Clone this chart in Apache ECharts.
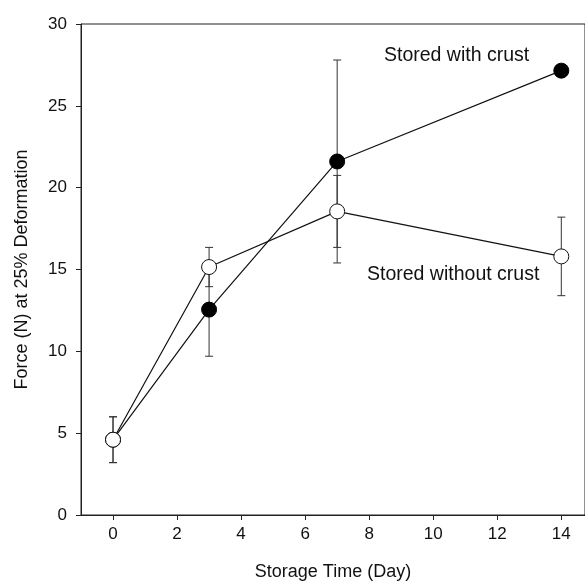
<!DOCTYPE html>
<html>
<head>
<meta charset="utf-8">
<script src="https://cdn.jsdelivr.net/npm/echarts@6/dist/echarts.min.js"></script>
<style>html,body{margin:0;padding:0;background:#fff}#c{width:585px;height:587px}</style>
</head>
<body>
<div id="c"></div>
<script>
var days = [0, 3, 7, 14];
var withCrust = [4.6, 12.55, 21.6, 27.15];
var withCrustErr = [1.4, 2.85, 6.2, 0];
var withoutCrust = [4.6, 15.15, 18.55, 15.8];
var withoutCrustErr = [1.4, 1.2, 2.2, 2.4];
var xTicks = [0, 2, 4, 6, 8, 10, 12, 14];
var yTicks = [0, 5, 10, 15, 20, 25, 30];
var labelWith = 'Stored with crust';
var labelWithout = 'Stored without crust';
var xTitle = 'Storage Time (Day)';
var yTitle = 'Force (N) at 25% Deformation';

var FONT = '"Liberation Sans", Arial, sans-serif';
var chart = echarts.init(document.getElementById('c'), null, {renderer: 'canvas'});

function errData(vals, errs) {
  return days.map(function (d, i) { return [d, vals[i] - errs[i], vals[i] + errs[i]]; });
}
function errRender(params, api) {
  var x = api.value(0);
  var lo = api.coord([x, api.value(1)]);
  var hi = api.coord([x, api.value(2)]);
  var hw = 4;
  var st = {stroke: '#333', lineWidth: 1};
  return {
    type: 'group',
    children: [
      {type: 'line', shape: {x1: lo[0], y1: lo[1], x2: hi[0], y2: hi[1]}, style: st},
      {type: 'line', shape: {x1: lo[0] - hw, y1: lo[1], x2: lo[0] + hw, y2: lo[1]}, style: st},
      {type: 'line', shape: {x1: hi[0] - hw, y1: hi[1], x2: hi[0] + hw, y2: hi[1]}, style: st}
    ]
  };
}
function pts(vals) { return days.map(function (d, i) { return [d, vals[i]]; }); }

chart.setOption({
  animation: false,
  grid: {left: 81, right: -2, top: 24, bottom: 72, show: true, borderColor: '#222', borderWidth: 1, backgroundColor: 'transparent'},
  xAxis: {
    type: 'value', min: -1, max: 14.74,
    name: xTitle, nameLocation: 'middle', nameGap: 48,
    nameTextStyle: {fontFamily: FONT, fontSize: 18, color: '#111'},
    axisLine: {show: true, onZero: false, lineStyle: {color: '#222', width: 1}},
    axisTick: {show: true, inside: false, length: 5, customValues: xTicks, lineStyle: {color: '#222'}},
    axisLabel: {customValues: xTicks, margin: 11, fontFamily: FONT, fontSize: 17, color: '#111'},
    splitLine: {show: false}
  },
  yAxis: {
    type: 'value', min: 0, max: 30, interval: 5,
    name: yTitle, nameLocation: 'middle', nameGap: 50, nameRotate: 90,
    nameTextStyle: {fontFamily: FONT, fontSize: 18, color: '#111'},
    axisLine: {show: true, onZero: false, lineStyle: {color: '#222', width: 1}},
    axisTick: {show: true, inside: false, length: 5, lineStyle: {color: '#222'}},
    axisLabel: {margin: 14, fontFamily: FONT, fontSize: 17, color: '#111'},
    splitLine: {show: false}
  },
  series: [
    {type: 'custom', renderItem: errRender, data: errData(withCrust, withCrustErr), z: 1, silent: true},
    {type: 'custom', renderItem: errRender, data: errData(withoutCrust, withoutCrustErr), z: 1, silent: true},
    {type: 'line', data: pts(withCrust), symbol: 'circle', symbolSize: 15, z: 3,
     lineStyle: {color: '#111', width: 1.2},
     itemStyle: {color: '#000', borderColor: '#000', borderWidth: 1}},
    {type: 'line', data: pts(withoutCrust), symbol: 'circle', symbolSize: 15, z: 4,
     lineStyle: {color: '#111', width: 1.2},
     itemStyle: {color: '#fff', borderColor: '#111', borderWidth: 1}}
  ],
  graphic: [
    {type: 'text', left: 384, top: 46, style: {text: labelWith, font: '19.5px ' + FONT, fill: '#111'}},
    {type: 'text', left: 367, top: 265, style: {text: labelWithout, font: '19.5px ' + FONT, fill: '#111'}}
  ]
});
</script>
</body>
</html>
